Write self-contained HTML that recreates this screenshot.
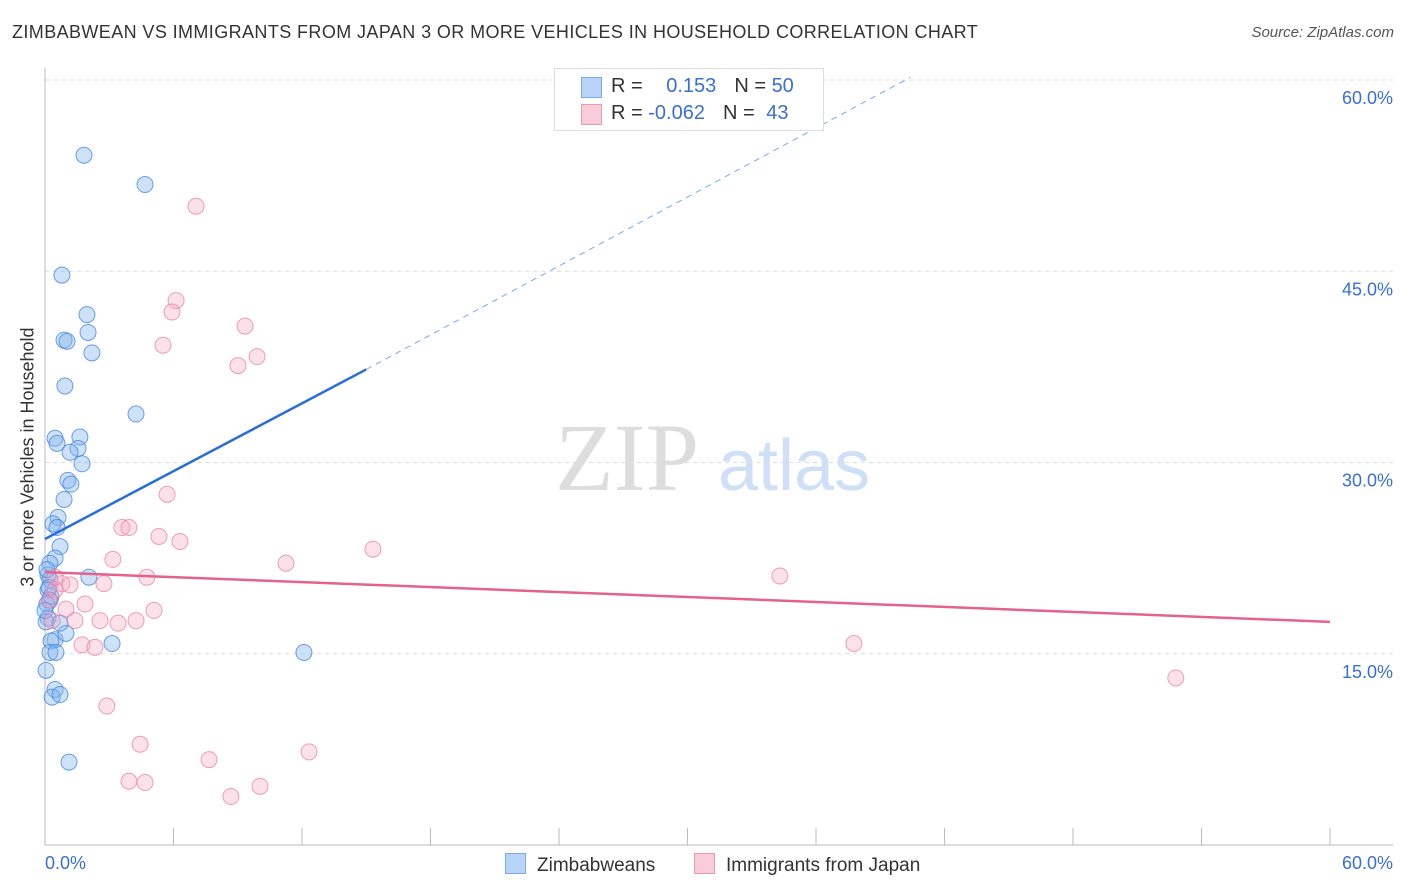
<!DOCTYPE html>
<html><head><meta charset="utf-8"><style>
body{margin:0;background:#fff;font-family:"Liberation Sans",sans-serif;}
#wrap{position:relative;width:1406px;height:892px;overflow:hidden;}
.t{position:absolute;white-space:nowrap;}
</style></head><body>
<div id="wrap">
<div class="t" style="left:12px;top:22px;font-size:18px;color:#333;letter-spacing:0.4px;">ZIMBABWEAN VS IMMIGRANTS FROM JAPAN 3 OR MORE VEHICLES IN HOUSEHOLD CORRELATION CHART</div>
<div class="t" style="right:12px;top:24px;font-size:15px;color:#555;font-style:italic;">Source: ZipAtlas.com</div>
<div class="t" style="left:28px;top:457px;font-size:18px;color:#333;transform:translate(-50%,-50%) rotate(-90deg);">3 or more Vehicles in Household</div>
<svg id="svg" width="1406" height="892" style="position:absolute;left:0;top:0"></svg>
<div class="t" style="left:554px;top:68px;width:268px;height:61px;border:1px solid #ddd;background:#fff;font-size:20px;color:#333;">
 <div style="position:absolute;left:26px;top:8px;width:19px;height:19px;background:#b8d4f6;border:1px solid #7aa8e8;"></div>
 <div style="position:absolute;left:56px;top:6px;">R = <span style="color:#3a6fd0;margin-left:18px;">0.153</span><span style="margin-left:18px;">N = </span><span style="color:#3a6fd0;">50</span></div>
 <div style="position:absolute;left:26px;top:35px;width:19px;height:19px;background:#f9ccd9;border:1px solid #ec98b2;"></div>
 <div style="position:absolute;left:56px;top:33px;">R = <span style="color:#3a6fd0;">-0.062</span><span style="margin-left:18px;">N = </span><span style="color:#3a6fd0;margin-left:6px;">43</span></div>
</div>
<div class="t" style="left:505px;top:853px;font-size:19px;color:#333;"><span style="display:inline-block;width:19px;height:19px;background:#b8d4f6;border:1px solid #7aa8e8;vertical-align:-3px;margin-right:11px;"></span>Zimbabweans</div>
<div class="t" style="left:694px;top:853px;font-size:19px;color:#333;"><span style="display:inline-block;width:19px;height:19px;background:#f9ccd9;border:1px solid #ec98b2;vertical-align:-3px;margin-right:11px;"></span>Immigrants from Japan</div>
</div>
<script>
const bx=[1.82,4.67,0.79,1.96,0.89,2.01,1.03,2.19,0.93,4.25,0.47,1.63,0.56,1.54,1.17,1.73,1.07,1.21,0.89,0.61,0.37,0.56,0.70,0.47,0.23,0.14,0.23,0.14,0.23,0.09,0.14,0.05,0.47,0.28,0.23,0.51,0.05,0.47,0.33,0.70,1.12,3.13,12.09,2.05,0.98,0.28,0.19,0.09,0.70,0];
const by=[54.1,51.8,44.7,41.6,39.6,40.2,39.5,38.6,36.0,33.8,31.9,32.0,31.5,31.1,30.8,29.9,28.6,28.3,27.1,25.7,25.2,24.9,23.4,22.5,22.1,21.2,20.8,20.0,19.2,18.9,17.8,17.5,16.1,16.0,15.1,15.1,13.7,12.2,11.6,11.8,6.5,15.8,15.1,21.0,16.6,19.5,20.2,21.6,17.4,18.4];
const px=[7.05,6.12,5.93,9.34,5.51,9.90,9.01,5.70,3.59,3.92,5.32,6.30,15.31,3.17,11.25,34.31,4.76,0.79,1.17,2.75,0.47,1.87,5.09,0.98,1.40,3.41,2.57,4.25,0.33,1.73,2.33,37.77,52.80,2.89,4.44,12.33,7.66,3.92,4.67,10.04,8.68,0.19,0.47];
const py=[50.1,42.7,41.8,40.7,39.2,38.3,37.6,27.5,24.9,24.9,24.2,23.8,23.2,22.4,22.1,21.1,21.0,20.5,20.4,20.5,20.0,18.9,18.4,18.5,17.6,17.4,17.6,17.6,17.6,15.7,15.5,15.8,13.1,10.9,7.9,7.3,6.7,5.0,4.9,4.6,3.8,19.2,21.0];
const yTicks=[15,30,45,60];
const blueTrend=[0,24.0,15,37.3,40.4,60.2];
const pinkTrend=[0,21.4,60,17.5];
const X=v=>45+v*1285/60, Y=v=>845-v*12.75;
const s=document.getElementById('svg');const NS='http://www.w3.org/2000/svg';
function el(t,a){const e=document.createElementNS(NS,t);for(const k in a)e.setAttribute(k,a[k]);s.appendChild(e);return e;}
let wm=el('text',{x:555,y:490,'font-size':96,fill:'#ddd','font-family':'Liberation Serif,serif'});wm.textContent='ZIP';

let wm2=el('text',{x:718,y:490,'font-size':72,fill:'#cfe0f6','font-family':'Liberation Sans,sans-serif'});wm2.textContent='atlas';

yTicks.forEach(v=>{let g=el('line',{x1:45,x2:1393,y1:Y(v),y2:Y(v),stroke:'#ddd','stroke-dasharray':'4,4'});

let t=el('text',{x:1393,y:Y(v)+24,'text-anchor':'end','font-size':18,fill:'#3a6fd0'});t.textContent=v.toFixed(1)+'%';
});
let ax=el('line',{x1:45,x2:45,y1:68,y2:845,stroke:'#bbb'});
let axx=el('line',{x1:45,x2:1393,y1:845,y2:845,stroke:'#bbb'});
for(let i=1;i<=10;i++){let tk=el('line',{x1:X(i*6),x2:X(i*6),y1:828,y2:845,stroke:'#bbb'});}
let l0=el('text',{x:45,y:869,'font-size':18,fill:'#3a6fd0'});l0.textContent='0.0%';
let l1=el('text',{x:1393,y:869,'text-anchor':'end','font-size':18,fill:'#3a6fd0'});l1.textContent='60.0%';
bx.forEach((v,i)=>{let c=el('circle',{cx:X(v),cy:Y(by[i]),r:8,fill:'rgba(130,180,240,0.4)',stroke:'rgba(60,130,220,0.75)','stroke-width':1});
});
px.forEach((v,i)=>{let c=el('circle',{cx:X(v),cy:Y(py[i]),r:8,fill:'rgba(245,170,195,0.35)',stroke:'rgba(230,120,160,0.7)','stroke-width':1});
});
let bt=el('line',{x1:X(blueTrend[0]),y1:Y(blueTrend[1]),x2:X(blueTrend[2]),y2:Y(blueTrend[3]),stroke:'#2a6fd6','stroke-width':2.5});

let bd=el('line',{x1:X(blueTrend[2]),y1:Y(blueTrend[3]),x2:X(blueTrend[4]),y2:Y(blueTrend[5]),stroke:'#7aa8e8','stroke-width':1,'stroke-dasharray':'6,5'});

let pt=el('line',{x1:X(pinkTrend[0]),y1:Y(pinkTrend[1]),x2:X(pinkTrend[2]),y2:Y(pinkTrend[3]),stroke:'#e4628e','stroke-width':2.5});

</script>
</body></html>
